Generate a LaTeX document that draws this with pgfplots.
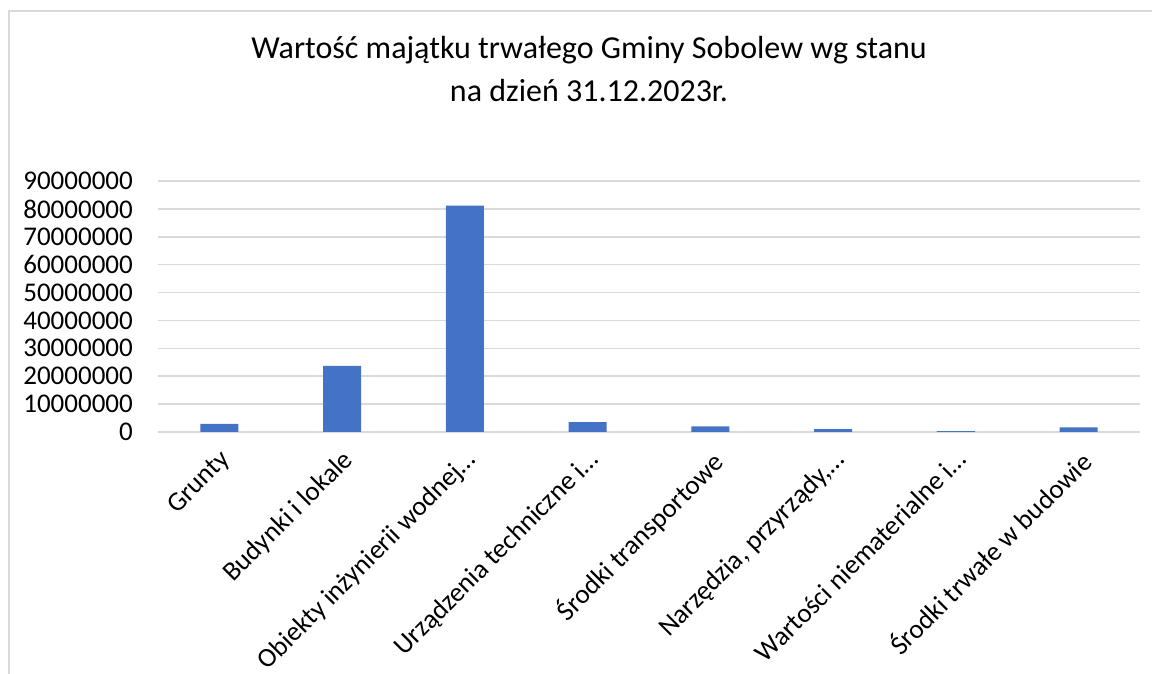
\documentclass[border=0pt]{standalone}
\usepackage{fontspec}
\setmainfont{Carlito}
\usepackage{pgfplots}
\pgfplotsset{compat=1.18}
\definecolor{barblue}{HTML}{4472C4}
\definecolor{gridgray}{HTML}{D9D9D9}
\begin{document}
\begin{tikzpicture}[x=1pt,y=1pt]
\useasboundingbox (0,0) rectangle (1152,674);
\draw[gridgray, line width=1.5pt] (9,-5) -- (9,663) -- (1160,663);
\node[align=center, font=\fontsize{32}{43}\selectfont, anchor=north, inner sep=0pt] at (589,638) {Wartość majątku trwałego Gminy Sobolew wg stanu\\na dzień 31.12.2023r.};
\begin{axis}[at={(158pt,242pt)}, anchor=south west, scale only axis,
  width=982pt, height=251pt,
  xmin=-0.5, xmax=7.5, ymin=0, ymax=90000000,
  axis lines*=left, axis line style={draw=none},
  major tick length=0pt,
  ymajorgrids, grid style={gridgray, line width=1.5pt},
  scaled y ticks=false,
  ytick={0,10000000,20000000,30000000,40000000,50000000,60000000,70000000,80000000,90000000},
  yticklabels={0,10000000,20000000,30000000,40000000,50000000,60000000,70000000,80000000,90000000},
  xtick={0,1,2,3,4,5,6,7},
  xticklabels={Grunty,Budynki i lokale,Obiekty inżynierii wodnej…,Urządzenia techniczne i…,Środki transportowe,{Narzędzia, przyrządy,…},Wartości niematerialne i…,Środki trwałe w budowie},
  yticklabel style={font=\fontsize{27}{27}\selectfont, anchor=east, inner sep=0pt, xshift=-25pt},
  xticklabel style={font=\fontsize{27}{27}\selectfont, inner sep=0pt, xshift=-1pt, yshift=-16pt, rotate=45, anchor=north east},
  ybar, bar width=38pt,
]
\addplot[fill=barblue, draw=none] coordinates {
(0,2900000) (1,23700000) (2,81200000) (3,3500000) (4,2000000) (5,1000000) (6,300000) (7,1700000)
};
\end{axis}
\end{tikzpicture}
\end{document}
